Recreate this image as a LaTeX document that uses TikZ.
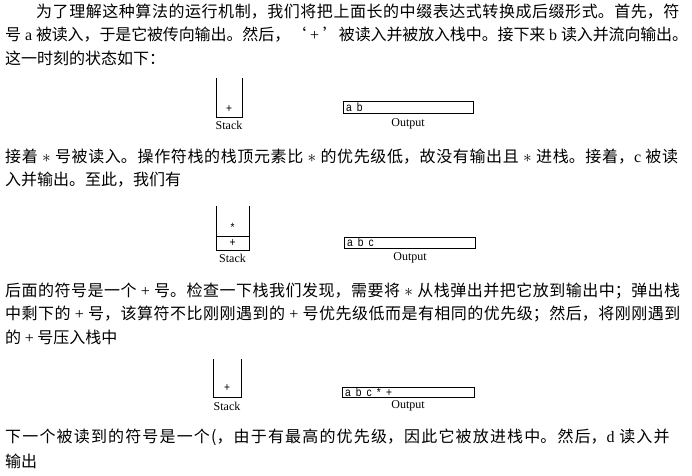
\documentclass[tikz,border=0pt]{standalone}
\usepackage{fontspec}
\setmainfont{Liberation Serif}
\newfontfamily\cjk{Noto Sans CJK SC}
\newfontfamily\boxfont{Liberation Sans}
\XeTeXlinebreaklocale "zh"
\XeTeXlinebreakskip=0pt plus 2pt minus 1pt
\newcommand{\ltn}[1]{{\rmfamily #1}}
\newcommand{\fullline}[1]{\noindent\spaceskip=4pt plus 1pt minus 1pt\parfillskip=0pt\tolerance=10000\relax #1\par}
\newcommand{\narrow}[1]{\scalebox{0.85}[1]{\spaceskip=6pt\relax #1}}

\begin{document}
\begin{tikzpicture}[x=1pt,y=-1pt,
    para/.style={anchor=west,inner sep=0pt,font=\cjk\fontsize{16}{16}\selectfont},
    fullpara/.style={para,text width=#1},
    wall/.style={line width=0.7pt},
    outbox/.style={draw,line width=0.7pt,inner sep=0pt,anchor=south west},
    item/.style={inner sep=0pt,font=\boxfont\fontsize{12}{12}\selectfont},
    lbl/.style={inner sep=0pt,font=\fontsize{12}{12}\selectfont}]
      \useasboundingbox (0,0) rectangle (692,475);

      \node[fullpara=652pt] (l1) at (36,12) {\fullline{为了理解这种算法的运行机制，我们将把上面长的中缀表达式转换成后缀形式。首先，符}};
      \node[fullpara=683pt] (l2) at (5,35) {\fullline{号 \ltn{a} 被读入，于是它被传向输出。然后，‘ \ltn{+} ’被读入并被放入栈中。接下来 \ltn{b} 读入并流向输出。}};
      \node[para] (l3) at (5,58) {这一时刻的状态如下：};

      % state after a, +, b
      \draw[wall] (216,78) -- (216,117.5) -- (242,117.5) -- (242,78);
      \node[item] (s1a) at (229,109) {\narrow{+}};
      \node[lbl] (s1) at (229,125.5) {Stack};
      \node[outbox,minimum width=130pt,minimum height=12pt] (o1) at (343,114) {};
      \node[item,anchor=west] (o1txt) at ([xshift=3pt]o1.west) {\narrow{a b}};
      \node[lbl] (o1lbl) at (408,124) {Output};

      \node[fullpara=683pt] (l4) at (5,157) {\fullline{接着 $*$ 号被读入。操作符栈的栈顶元素比 $*$ 的优先级低，故没有输出且 $*$ 进栈。接着，\ltn{c} 被读}};
      \node[para] (l5) at (5,180) {入并输出。至此，我们有};

      % state after *, c
      \draw[wall] (216,206) -- (216,250) -- (249,250) -- (249,206);
      \draw[wall] (216,236) -- (249,236);
      \node[item] (s2b) at (232.5,227.5) {\narrow{*}};
      \node[item] (s2a) at (232.5,243) {\narrow{+}};
      \node[lbl] (s2) at (232.5,258.5) {Stack};
      \node[outbox,minimum width=131pt,minimum height=11pt] (o2) at (344,248.5) {};
      \node[item,anchor=west] (o2txt) at ([xshift=3pt]o2.west) {\narrow{a b c}};
      \node[lbl] (o2lbl) at (410,258) {Output};

      \node[fullpara=683pt] (l6) at (5,291) {\fullline{后面的符号是一个 \ltn{+} 号。检查一下栈我们发现，需要将 $*$ 从栈弹出并把它放到输出中；弹出栈}};
      \node[fullpara=683pt] (l7) at (5,314) {\fullline{中剩下的 \ltn{+} 号，该算符不比刚刚遇到的 \ltn{+} 号优先级低而是有相同的优先级；然后，将刚刚遇到}};
      \node[para] (l8) at (5,337) {的 \ltn{+} 号压入栈中};

      % state after the second +
      \draw[wall] (213,359) -- (213,397.5) -- (241,397.5) -- (241,359);
      \node[item] (s3a) at (227,388) {\narrow{+}};
      \node[lbl] (s3) at (227,406.5) {Stack};
      \node[outbox,minimum width=132pt,minimum height=10pt] (o3) at (342,397.5) {};
      \node[item,anchor=west] (o3txt) at ([xshift=3pt]o3.west) {\narrow{a b c * +}};
      \node[lbl] (o3lbl) at (408,406) {Output};

      \node[fullpara=683pt] (l9) at (5,437) {\fullline{下一个被读到的符号是一个(，由于有最高的优先级，因此它被放进栈中。然后，\ltn{d} 读入并}};
      \node[para] (l10) at (5,461) {输出};
\end{tikzpicture}
\end{document}
